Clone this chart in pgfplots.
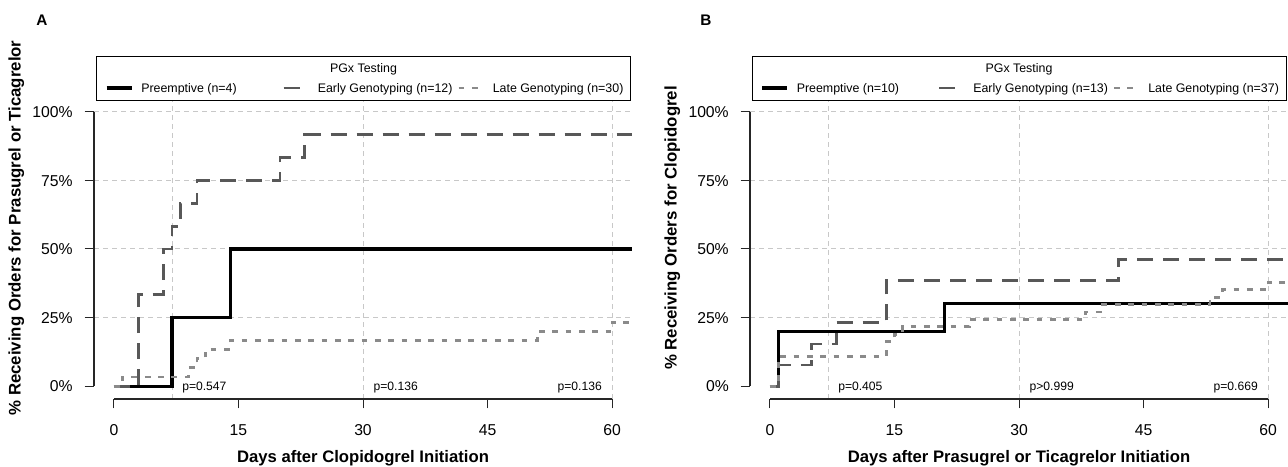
\documentclass[border=0pt]{standalone}
\usepackage{fontspec}
\setmainfont{Liberation Sans}
\usepackage{pgfplots}
\pgfplotsset{compat=1.18}
\definecolor{early}{RGB}{88,88,88}
\definecolor{late}{RGB}{138,138,138}
\definecolor{gridc}{RGB}{200,200,200}
\newcommand{\legfont}{\fontsize{9.3}{11}\selectfont}
\newcommand{\pfont}{\fontsize{9.1}{11}\selectfont}
\tikzset{
  pre/.style={black, line width=2.4pt, line cap=butt, line join=miter},
  earl/.style={early, line width=2.1pt, line cap=butt, line join=miter, dash pattern=on 12pt off 7.5pt},
  lat/.style={late, line width=2.1pt, line cap=butt, line join=miter, dash pattern=on 4.3pt off 5.7pt},
  axl/.style={black!85, line width=0.8pt},
}
\pgfplotsset{
 km/.style={
   scale only axis, width=403.5pt, height=256.5pt, anchor=south west,
   xmin=-2.4, xmax=62.4, ymin=-0.047, ymax=1.2, clip=false,
   axis lines*=left, axis line style={draw=none},
   tick align=outside, major tick length=7pt,
   every tick/.style={black!85, line width=0.75pt},
   xtick={0,15,30,45,60}, xticklabels={0,15,30,45,60},
   ytick={0,0.25,0.5,0.75,1}, yticklabels={0\%,25\%,50\%,75\%,100\%},
   extra x ticks={7,30,60}, extra x tick labels={},
   extra y ticks={0.25,0.5,0.75,1}, extra y tick labels={},
   extra x tick style={grid=major, major tick length=0pt},
   extra y tick style={grid=major, major tick length=0pt},
   major grid style={draw=gridc, line width=0.75pt, dash pattern=on 3.75pt off 3pt},
   ticklabel style={font=\fontsize{11.8}{14}\selectfont, inner sep=0pt},
   xticklabel style={anchor=base, yshift=-20.5pt},
   yticklabel style={anchor=base east, xshift=-8.75pt, yshift=-4.2pt},
   every axis x label/.style={at={([yshift=-47.3pt]axis description cs:0.5,0)}, anchor=base, font=\fontsize{12.5}{14}\selectfont\bfseries},
   every axis y label/.style={at={([xshift=-55pt]axis description cs:0,0.5)}, rotate=90, anchor=base, font=\fontsize{12.6}{14}\selectfont\bfseries},
 }
}
\newcommand{\kmlegend}[4]{%
  \fill[white] (#1,57) rectangle ++(534,44);
  \draw[line width=0.75pt] (#1,57) rectangle ++(534,44);
  \node[font=\legfont, anchor=base, inner sep=0pt] at (#1+267,72.3) {PGx Testing};
  \draw[pre] (#1+10,88) -- ++(25,0);
  \node[font=\legfont, anchor=base west, inner sep=0pt] at (#1+44.5,92.3) {#2};
  \draw[earl] (#1+187,88) -- ++(25,0);
  \node[font=\legfont, anchor=base west, inner sep=0pt] at (#1+221,92.3) {#3};
  \draw[lat] (#1+362,88) -- ++(25,0);
  \node[font=\legfont, anchor=base west, inner sep=0pt] at (#1+396,92.3) {#4};
}
\begin{document}
\begin{tikzpicture}
\useasboundingbox (0,0) rectangle (966pt,350.25pt);
% Panel A
\begin{axis}[km, at={(70.5pt,51pt)},
  xlabel={Days after Clopidogrel Initiation},
  ylabel={\% Receiving Orders for Prasugrel or Ticagrelor}]
\draw[axl] (axis cs:0,-0.047) -- (axis cs:60,-0.047);
\draw[axl] (axis cs:-2.4,0) -- (axis cs:-2.4,1);
\addplot[pre, const plot] coordinates {(0,0) (7,0.25) (14,0.5) (62.4,0.5)};
\addplot[earl, const plot] coordinates {(0,0) (3,0.3333) (6,0.5) (7,0.5833) (8,0.6667) (10,0.75) (20,0.8333) (23,0.9167) (62.4,0.9167)};
\addplot[lat, const plot] coordinates {(0,0) (1,0.0333) (9,0.0667) (10,0.1) (11,0.1333) (14,0.1667) (51,0.2) (60,0.2333) (62.4,0.2333)};
\node[font=\pfont, anchor=base west, inner sep=0pt, yshift=-3.2pt] at (axis cs:8.2,0) {p=0.547};
\node[font=\pfont, anchor=base west, inner sep=0pt, yshift=-3.2pt] at (axis cs:31.25,0) {p=0.136};
\node[font=\pfont, anchor=base east, inner sep=0pt, yshift=-3.2pt] at (axis cs:58.8,0) {p=0.136};
\end{axis}
% Panel B
\begin{axis}[km, at={(562.5pt,51pt)},
  xlabel={Days after Prasugrel or Ticagrelor Initiation},
  ylabel={\% Receiving Orders for Clopidogrel}]
\draw[axl] (axis cs:0,-0.047) -- (axis cs:60,-0.047);
\draw[axl] (axis cs:-2.4,0) -- (axis cs:-2.4,1);
\addplot[pre, const plot] coordinates {(0,0) (1,0.2) (21,0.3) (62.4,0.3)};
\addplot[earl, const plot] coordinates {(0,0) (1,0.0769) (5,0.1538) (8,0.2308) (14,0.3846) (42,0.4615) (62.4,0.4615)};
\addplot[lat, const plot] coordinates {(0,0) (1,0.1081) (14,0.1622) (15,0.1892) (16,0.2162) (24,0.2432) (38,0.2703) (40,0.2973) (53,0.3243) (54.5,0.3514) (60,0.3784) (62.4,0.3784)};
\node[font=\pfont, anchor=base west, inner sep=0pt, yshift=-3.2pt] at (axis cs:8.2,0) {p=0.405};
\node[font=\pfont, anchor=base west, inner sep=0pt, yshift=-3.2pt] at (axis cs:31.25,0) {p>0.999};
\node[font=\pfont, anchor=base east, inner sep=0pt, yshift=-3.2pt] at (axis cs:58.8,0) {p=0.669};
\end{axis}
\begin{scope}[x=0.75pt, y=-0.75pt, yshift=350.25pt]
\kmlegend{96.5}{Preemptive (n=4)}{Early Genotyping (n=12)}{Late Genotyping (n=30)}
\kmlegend{752}{Preemptive (n=10)}{Early Genotyping (n=13)}{Late Genotyping (n=37)}
\node[font=\fontsize{11.5}{13}\selectfont\bfseries, anchor=base, inner sep=0pt] at (42,25.5) {A};
\node[font=\fontsize{11.5}{13}\selectfont\bfseries, anchor=base, inner sep=0pt] at (706,25.5) {B};
\end{scope}
\end{tikzpicture}
\end{document}
